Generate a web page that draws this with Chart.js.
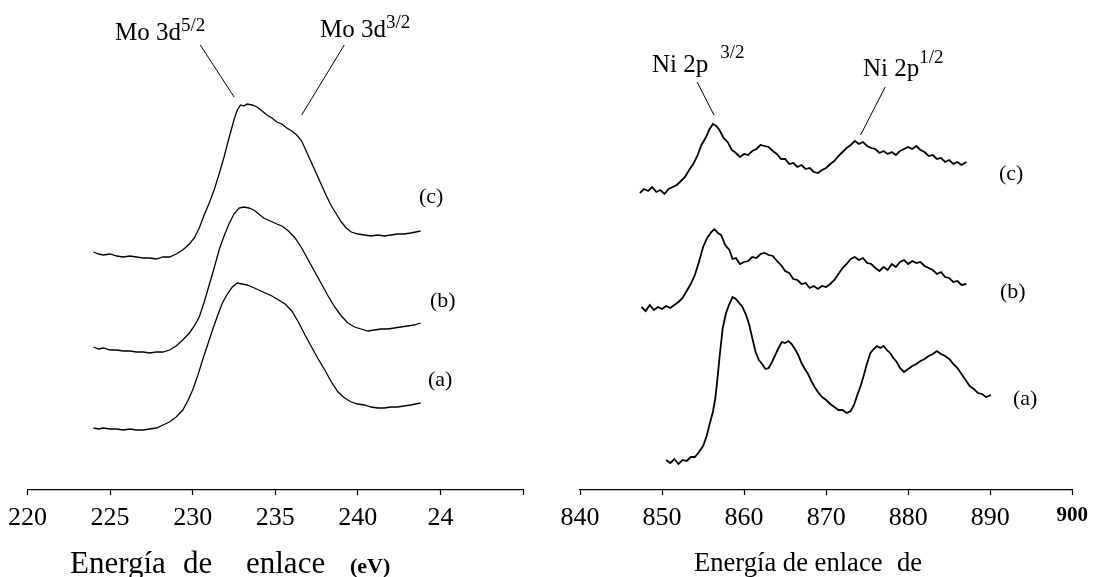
<!DOCTYPE html>
<html>
<head>
<meta charset="utf-8">
<script src="https://cdn.jsdelivr.net/npm/chart.js@4.4.1/dist/chart.umd.min.js"></script>
<style>
  html, body { margin: 0; padding: 0; background: #fff; }
  #wrap { position: relative; width: 1096px; height: 577px; overflow: hidden; background: #fff; }
  canvas { position: absolute; top: 0; }
  .t { position: absolute; font-family: "Liberation Serif", "Times New Roman", serif; color: #000; white-space: nowrap; line-height: 1; }
  .sup { position: relative; font-size: 19px; }
</style>
</head>
<body>
<div id="wrap">
  <canvas id="moChart" width="548" height="577" style="left:0"></canvas>
  <canvas id="niChart" width="548" height="577" style="left:548px"></canvas>

  <div class="t" style="left:115px;top:19px;font-size:25px">Mo 3d<span class="sup" style="top:-9px">5/2</span></div>
  <div class="t" style="left:320px;top:16px;font-size:25px">Mo 3d<span class="sup" style="top:-9px">3/2</span></div>
  <div class="t" style="left:419px;top:185px;font-size:22px">(c)</div>
  <div class="t" style="left:430px;top:289px;font-size:22px">(b)</div>
  <div class="t" style="left:428px;top:368px;font-size:22px">(a)</div>

  <div class="t" style="left:652px;top:51px;font-size:25px">Ni 2p<span class="sup" style="top:-14px;margin-left:12px">3/2</span></div>
  <div class="t" style="left:863px;top:55px;font-size:25px">Ni 2p<span class="sup" style="top:-13px">1/2</span></div>
  <div class="t" style="left:999px;top:162px;font-size:22px">(c)</div>
  <div class="t" style="left:1000px;top:280px;font-size:22px">(b)</div>
  <div class="t" style="left:1013px;top:387px;font-size:22px">(a)</div>

  <div class="t" style="left:70px;top:547px;font-size:31px">Energía</div>
  <div class="t" style="left:183px;top:547px;font-size:31px">de</div>
  <div class="t" style="left:246px;top:547px;font-size:31px">enlace</div>
  <div class="t" style="left:350px;top:555px;font-size:22px;font-weight:bold">(eV)</div>

  <div class="t" style="left:694px;top:549px;font-size:26.6px">Energía de enlace</div>
  <div class="t" style="left:897px;top:549px;font-size:26.6px">de</div>
</div>

<script>
// ---------- Mo 3d spectra: [binding energy (eV), intensity (a.u.)] ----------
const moC = [[224.0,238],[224.3,236],[224.6,235],[225.0,236],[225.4,234],[225.8,233],[226.2,234],[226.6,233],[227.0,232],[227.4,232],[227.8,231],[228.2,233],[228.6,233],[229.0,236],[229.4,240],[229.8,246],[230.1,252],[230.4,262],[230.7,275],[231.0,287],[231.3,300],[231.6,316],[231.9,333],[232.2,352],[232.5,370],[232.7,380],[232.9,385],[233.1,384],[233.3,386],[233.6,385],[233.9,383],[234.2,379],[234.5,375],[234.8,372],[235.1,368],[235.4,366],[235.7,362],[236.0,359],[236.3,355],[236.6,349],[236.9,338],[237.2,327],[237.5,316],[237.8,305],[238.1,294],[238.4,284],[238.7,276],[239.0,268],[239.3,262],[239.6,258],[240.0,256],[240.4,255],[240.8,254],[241.2,255],[241.6,254],[242.0,255],[242.4,256],[242.8,256],[243.2,257],[243.5,258],[243.8,259]];

const moB = [[224.0,143],[224.3,141],[224.6,142],[225.0,140],[225.4,140],[225.8,139],[226.2,139],[226.6,138],[227.0,138],[227.4,137],[227.8,138],[228.2,138],[228.6,140],[229.0,144],[229.4,150],[229.8,157],[230.1,164],[230.4,173],[230.7,188],[231.0,205],[231.3,222],[231.6,240],[231.9,254],[232.2,266],[232.5,276],[232.8,282],[233.1,283],[233.4,282],[233.7,280],[234.0,276],[234.3,272],[234.7,269],[235.1,266],[235.4,264],[235.8,259],[236.2,252],[236.6,242],[237.0,230],[237.4,218],[237.8,206],[238.2,194],[238.6,183],[239.0,174],[239.4,167],[239.8,163],[240.2,161],[240.6,159],[241.0,160],[241.4,161],[241.8,161],[242.2,162],[242.6,163],[243.0,164],[243.4,165],[243.8,167]];

const moA = [[224.0,62],[224.3,61],[224.6,62],[225.0,61],[225.4,61],[225.8,60],[226.2,61],[226.6,60],[227.0,60],[227.4,61],[227.8,62],[228.2,65],[228.6,68],[229.0,73],[229.4,80],[229.7,89],[230.0,100],[230.3,114],[230.6,130],[230.9,145],[231.2,160],[231.5,174],[231.8,187],[232.1,196],[232.4,203],[232.7,207],[233.0,206],[233.3,205],[233.6,203],[234.0,200],[234.4,197],[234.8,194],[235.2,190],[235.6,186],[236.0,179],[236.4,168],[236.8,155],[237.2,143],[237.6,131],[238.0,120],[238.4,108],[238.8,98],[239.2,92],[239.6,88],[240.0,86],[240.4,85],[240.8,83],[241.2,82],[241.6,82],[242.0,83],[242.4,83],[242.8,84],[243.2,85],[243.8,87]];

// ---------- Ni 2p spectra ----------
const niC = [[847.3,297],[847.8,301],[848.3,299],[848.8,303],[849.3,298],[849.8,300],[850.3,296],[850.8,301],[851.3,303],[851.8,305],[852.3,309],[852.8,313],[853.3,320],[853.8,326],[854.3,334],[854.8,345],[855.3,352],[855.8,361],[856.2,366],[856.6,364],[857.0,360],[857.5,352],[858.0,348],[858.5,340],[859.0,337],[859.5,333],[860.0,336],[860.5,335],[861.0,339],[861.5,341],[862.0,345],[862.5,344],[863.0,343],[863.5,339],[864.0,336],[864.5,331],[865.0,331],[865.5,326],[866.0,327],[866.5,323],[867.0,325],[867.5,321],[868.0,322],[868.5,318],[869.0,317],[869.5,320],[870.0,322],[870.5,326],[871.0,329],[871.5,334],[872.0,338],[872.5,342],[873.0,345],[873.5,349],[874.0,346],[874.5,348],[875.0,344],[875.5,342],[876.0,341],[876.5,337],[877.0,339],[877.5,336],[878.0,338],[878.5,335],[879.0,339],[879.5,341],[880.0,343],[880.5,341],[881.0,344],[881.5,340],[882.0,338],[882.5,334],[883.0,335],[883.5,331],[884.0,332],[884.5,328],[885.0,330],[885.5,326],[886.0,328],[886.5,325],[887.1,328]];

const niB = [[847.5,183],[848.0,179],[848.5,185],[849.0,180],[849.5,183],[850.0,181],[850.5,184],[851.0,182],[851.5,185],[852.0,188],[852.5,192],[853.0,199],[853.5,206],[854.0,215],[854.5,228],[855.0,243],[855.5,252],[856.0,258],[856.4,261],[856.8,257],[857.2,255],[857.7,245],[858.2,240],[858.6,231],[859.0,232],[859.5,226],[860.0,228],[860.5,229],[861.0,233],[861.5,232],[862.0,236],[862.5,237],[863.0,235],[863.5,234],[864.0,229],[864.5,225],[865.0,219],[865.5,217],[866.0,211],[866.5,210],[867.0,206],[867.5,207],[868.0,202],[868.5,204],[869.0,201],[869.5,204],[870.0,203],[870.5,206],[871.0,210],[871.5,216],[872.0,222],[872.5,226],[873.0,231],[873.5,233],[874.0,230],[874.5,232],[875.0,227],[875.5,226],[876.0,222],[876.5,219],[877.0,223],[877.5,220],[878.0,226],[878.5,223],[879.0,228],[879.5,230],[880.0,226],[880.5,229],[881.0,227],[881.5,228],[882.0,224],[882.5,222],[883.0,220],[883.5,216],[884.0,218],[884.5,213],[885.0,212],[885.5,208],[886.0,209],[886.5,205],[887.1,206]];

const niA = [[850.5,30],[851.0,27],[851.5,31],[852.0,26],[852.5,30],[853.0,29],[853.5,33],[854.0,33],[854.5,38],[855.0,44],[855.4,53],[855.8,66],[856.2,78],[856.5,92],[856.8,115],[857.1,140],[857.4,162],[857.8,177],[858.2,186],[858.6,193],[859.0,191],[859.4,187],[859.8,183],[860.2,176],[860.6,166],[861.0,152],[861.4,138],[861.8,130],[862.2,126],[862.6,121],[863.0,122],[863.4,128],[863.8,135],[864.2,142],[864.6,148],[865.0,147],[865.4,149],[865.8,146],[866.2,141],[866.6,135],[867.0,127],[867.4,121],[867.8,116],[868.2,109],[868.6,103],[869.0,98],[869.5,93],[870.0,90],[870.5,86],[871.0,83],[871.5,80],[872.0,80],[872.5,77],[873.0,79],[873.4,85],[873.8,95],[874.2,104],[874.6,115],[875.0,127],[875.4,137],[875.8,141],[876.2,144],[876.6,142],[877.0,144],[877.4,140],[877.8,137],[878.2,132],[878.6,128],[879.0,122],[879.5,118],[880.0,121],[880.5,124],[881.0,126],[881.5,129],[882.0,131],[882.5,134],[883.0,136],[883.5,139],[884.0,136],[884.5,134],[885.0,131],[885.5,126],[886.0,122],[886.5,116],[887.0,110],[887.5,104],[888.0,101],[888.5,97],[889.0,96],[889.5,93],[890.1,95]];

// ---------- axes ----------
const moTicks = { min: 220, max: 250, step: 5 };
const niTicks = { min: 840, max: 900, step: 10 };

// leader lines for peak labels: [E1, I1, E2, I2]
const moLeaders = [[230.46, 445, 232.51, 393], [239.18, 445, 236.6, 375]];
const niLeaders = [[854.28, 408, 856.33, 375], [877.2, 403, 874.2, 355]];

const toXY = (pts) => pts.map(p => ({ x: p[0], y: p[1] }));

const leaderPlugin = {
  id: 'leaders',
  afterDatasetsDraw(chart, args, opts) {
    const { ctx, scales } = chart;
    ctx.save();
    ctx.strokeStyle = '#000';
    ctx.lineWidth = 1;
    (opts.lines || []).forEach(l => {
      ctx.beginPath();
      ctx.moveTo(scales.x.getPixelForValue(l[0]), scales.y.getPixelForValue(l[1]));
      ctx.lineTo(scales.x.getPixelForValue(l[2]), scales.y.getPixelForValue(l[3]));
      ctx.stroke();
    });
    ctx.restore();
  }
};

function makeChart(id, series, tk, padRight, padLeft, lw, leaders, labelCb, fontCb) {
  return new Chart(document.getElementById(id), {
    type: 'line',
    data: {
      datasets: series.map(s => ({
        data: s,
        borderColor: '#000',
        borderWidth: lw,
        pointRadius: 0,
        fill: false,
        tension: 0
      }))
    },
    options: {
      responsive: false,
      animation: false,
      devicePixelRatio: 1,
      layout: { padding: { left: padLeft, right: padRight, top: 0, bottom: 0 } },
      plugins: { legend: { display: false }, tooltip: { enabled: false }, leaders: { lines: leaders } },
      scales: {
        x: {
          type: 'linear',
          min: tk.min, max: tk.max,
          afterFit: (s) => { s.height = 87; },
          afterBuildTicks: (s) => {
            const t = [];
            for (let v = tk.min; v <= tk.max + 1e-9; v += tk.step) t.push({ value: v });
            s.ticks = t;
          },
          grid: { drawOnChartArea: false, drawTicks: true, tickLength: 5, tickColor: '#000', tickWidth: 1.2 },
          border: { display: true, color: '#000', width: 1.2 },
          ticks: {
            color: '#000',
            padding: 8,
            maxRotation: 0,
            autoSkip: false,
            font: fontCb,
            callback: labelCb
          }
        },
        y: { display: false, min: 0, max: 490 }
      }
    },
    plugins: [leaderPlugin]
  });
}

makeChart('moChart',
  [toXY(moC), toXY(moB), toXY(moA)],
  moTicks, 25, 24, 1.3, moLeaders,
  (v) => v === 245 ? '24' : (v === 250 ? '' : String(v)),
  { family: '"Liberation Serif", "Times New Roman", serif', size: 26 });

makeChart('niChart',
  [toXY(niC), toXY(niB), toXY(niA)],
  niTicks, 19, 32, 1.8, niLeaders,
  (v) => String(v),
  (ctx) => (ctx.tick && ctx.tick.value === 900)
    ? { family: '"Liberation Serif", "Times New Roman", serif', size: 21, weight: 'bold' }
    : { family: '"Liberation Serif", "Times New Roman", serif', size: 26 });
</script>
</body>
</html>
